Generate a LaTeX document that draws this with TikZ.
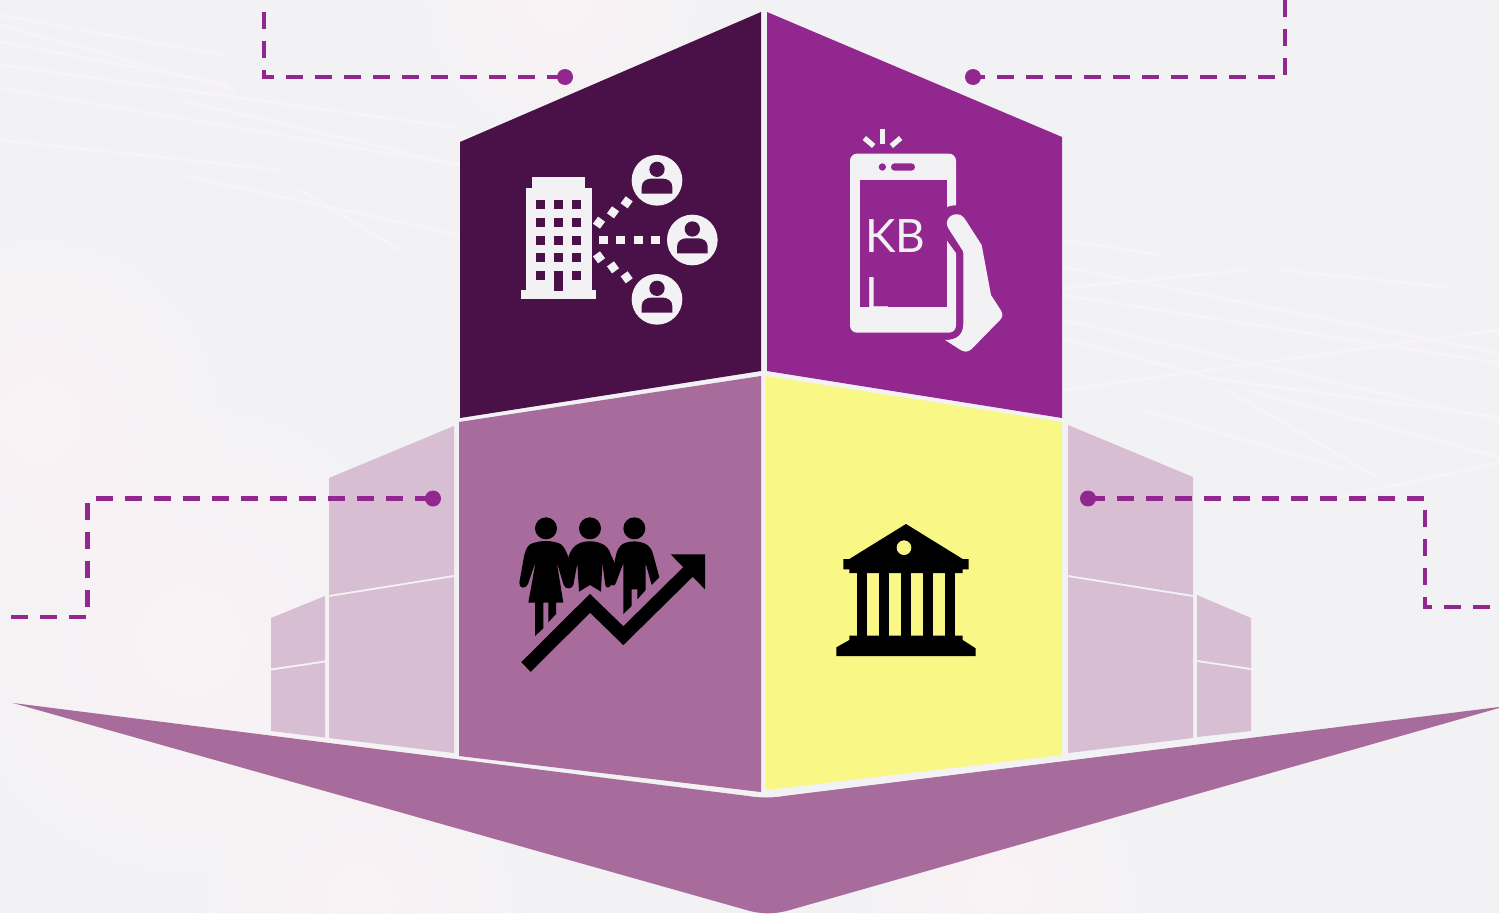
\documentclass[tikz,border=0pt]{standalone}
\usepackage{fontspec}
\setmainfont{Lato}
\usetikzlibrary{fadings}
\definecolor{bgc}{HTML}{F2F2F4}
\definecolor{darkp}{HTML}{4A1048}
\definecolor{midp}{HTML}{92278F}
\definecolor{softp}{HTML}{A76C9B}
\definecolor{palep}{HTML}{D8BED3}
\definecolor{yel}{HTML}{F9F785}
\definecolor{glow}{HTML}{FCF3F6}
\definecolor{streakc}{HTML}{FAF5F8}
\tikzfading[name=softblob, inner color=transparent!0, outer color=transparent!100]
\tikzset{
  link/.style={draw=midp,line width=4.5pt,dash pattern=on 17pt off 12pt},
  dotnode/.style={circle,fill=midp,inner sep=0pt,minimum size=16pt},
  streak/.style={draw=streakc,line width=3pt,opacity=.65},
  blob/.style={fill=glow,path fading=softblob},
  lbl/.style={text=bgc,inner sep=0pt,font=\fontsize{46}{46}\selectfont},
  icw/.style={fill=bgc},
  icb/.style={fill=black},
}
\begin{document}
\begin{tikzpicture}[x=1pt,y=-1pt]
\useasboundingbox (0,0) rectangle (1499,913);
\fill[bgc] (0,0) rectangle (1499,913);
\clip (0,0) rectangle (1499,913);
% background glow
\fill[blob] (40,420) circle (200);
\fill[blob] (190,640) circle (260);
\fill[blob] (360,900) circle (170);
\fill[blob] (1000,890) circle (150);
\fill[blob] (560,0) circle (150);
% background streaks
\foreach \ax/\ay/\bx/\by in {
  0/15/70/28, 0/25/235/90, 80/30/225/55, 0/42/230/85, 0/65/460/128, 0/88/460/165,
  180/100/460/165, 0/140/280/170, 180/175/460/235, 300/190/400/250,
  1063/240/1160/255, 1063/267/1499/353, 1063/295/1499/363, 1063/320/1499/420,
  1063/338/1205/376, 1203/377/1499/417, 1063/390/1499/330, 1063/288/1247/270,
  1280/270/1447/287, 1227/390/1377/477, 1247/390/1499/457, 1327/500/1499/463,
  1143/410/1347/470}
  \draw[streak] (\ax,\ay) -- (\bx,\by);
% faces
\fill[darkp] (460,142) -- (761,12) -- (761,371) -- (460,418) -- cycle;
\fill[midp] (767,12) -- (1062,137) -- (1062,418) -- (767,371) -- cycle;
\fill[softp] (459,422) -- (761,376) -- (761,792) -- (459,756) -- cycle;
\fill[yel] (766,376) -- (1062,422) -- (1062,755) -- (766,790) -- cycle;
% side blocks left
\fill[palep] (329,478) -- (454,426) -- (454,575) -- (329,595) -- cycle;
\fill[palep] (329,597) -- (454,577) -- (454,753) -- (329,738) -- cycle;
\fill[palep] (271,618) -- (325,596) -- (325,660.5) -- (271,668.5) -- cycle;
\fill[palep] (271,670.5) -- (325,662.5) -- (325,737.5) -- (271,731) -- cycle;
% side blocks right
\fill[palep] (1068,425) -- (1193,477) -- (1193,595) -- (1068,575) -- cycle;
\fill[palep] (1068,577) -- (1193,597) -- (1193,738) -- (1068,753) -- cycle;
\fill[palep] (1197,595) -- (1251,618) -- (1251,668) -- (1197,660) -- cycle;
\fill[palep] (1197,662) -- (1251,670) -- (1251,731) -- (1197,737) -- cycle;
% bottom arrow
\fill[softp] (13,703) -- (748,796) .. controls (760,798) and (772,798) .. (784,796) -- (1499,707)
  -- (1499,708) -- (790,910) .. controls (775,914.5) and (760,914.5) .. (745,909.6) -- cycle;
% connectors
\node[dotnode] (d1) at (565,77) {};
\node[dotnode] (d2) at (973,77) {};
\node[dotnode] (d3) at (433,498.5) {};
\node[dotnode] (d4) at (1088,498.5) {};
\coordinate (e1) at (264,12);
\coordinate (e2) at (1285,0);
\coordinate (e3) at (11,617);
\coordinate (e4) at (1499,607);
\draw[link] (e1) -- (264,77) -- (d1.center);
\draw[link] (e2) -- (1285,77) -- (d2.center);
\draw[link] (e3) -- (87.5,617) -- (87.5,498.5) -- (d3.center);
\draw[link] (d4.center) -- (1425,498.5) -- (1425,607) -- (e4);
% building + people icon
\begin{scope}[shift={(500,130)},scale=.33333]
  \fill[icw] (63,481) rectangle (289,506);
  \fill[icw] (77,175) rectangle (275,482);
  \fill[icw] (96,142) rectangle (256,176);
  \foreach \wx in {122,176,229}
    \foreach \wy in {224,277,330,382}
      \fill[darkp] (\wx-13.5,\wy-13.5) rectangle (\wx+13.5,\wy+13.5);
  \fill[darkp] (108.5,422) rectangle (135.5,449);
  \fill[darkp] (215.5,422) rectangle (242.5,449);
  \fill[darkp] (163,422) rectangle (189,482);
  \foreach \px in {310,362,415,467}
    \fill[icw] (\px-13,317) rectangle (\px+13,343);
  \foreach \qx/\qy/\ang in {297/278/-36,339/247/-36,380/217/-36,297/382/36,339/412/36,380/442/36}
    \fill[icw,shift={(\qx,\qy)},rotate=\ang] (-13,-13) rectangle (13,13);
  \foreach \cx/\cy in {471/151,577/330,471/508}{
    \fill[icw] (\cx,\cy) circle (76);
    \fill[darkp] (\cx,\cy-33) circle (23);
    \fill[darkp] (\cx-46,\cy+40) -- (\cx-46,\cy+20) .. controls (\cx-46,\cy+2) and (\cx-30,\cy-5) .. (\cx-18,\cy-5)
      -- (\cx+18,\cy-5) .. controls (\cx+30,\cy-5) and (\cx+46,\cy+2) .. (\cx+46,\cy+20) -- (\cx+46,\cy+40) -- cycle;
  }
\end{scope}
% phone icon
\begin{scope}[shift={(830,120)},scale=.33333]
  \fill[icw,rounded corners=7pt] (60,101) rectangle (378,638);
  \fill[midp] (89,181) rectangle (350,560);
  \fill[midp] (345,265) .. controls (355,258) and (368,256) .. (379,256) -- (400,256) -- (400,400) -- (379,400) -- (350,360) -- cycle;
  \fill[icw] (345,660) .. controls (380,660) and (400,645) .. (400,610) -- (400,400) -- (398,392) -- (355,325)
    .. controls (340,300) and (365,275) .. (392,285) .. controls (400,289) and (404,296) .. (408,302)
    -- (455,375) -- (483,525) -- (512,570) .. controls (520,582) and (518,592) .. (510,600)
    -- (425,687) .. controls (413,698) and (402,696) .. (392,690) -- cycle;
  \fill[icw] (150,28) rectangle (165,72);
  \fill[icw] (98,60) -- (108,48) -- (136,72) -- (126,84) -- cycle;
  \fill[icw] (217,60) -- (207,48) -- (179,72) -- (189,84) -- cycle;
  \fill[midp] (157,141) circle (11);
  \fill[midp,rounded corners=3.6pt] (183,130) rectangle (255,152);
  \node[lbl] (kb) at (196,349) {KB};
  \node[lbl,anchor=south west] (ell) at (107,573) {L};
\end{scope}
% people + arrow icon
\begin{scope}[shift={(500,500)},scale=.33333]
  \fill[icb] (138,85) circle (33) (270,85) circle (33) (403,85) circle (33);
  \fill[icb] (92,132) .. controls (120,120) and (155,120) .. (182,132) .. controls (192,140) and (200,155) .. (205,172)
    -- (220,250) .. controls (218,268) and (196,270) .. (191,255) -- (170,185) -- (190,308) -- (168,308) -- (168,342) -- (145,367)
    -- (145,308) -- (130,308) -- (130,385) -- (105,408) -- (105,308) -- (85,308) -- (107,185) -- (84,252)
    .. controls (78,268) and (56,266) .. (58,248) -- (72,170) .. controls (76,150) and (82,138) .. (92,132) -- cycle;
  \fill[icb] (238,130) .. controls (255,122) and (285,122) .. (302,130) .. controls (318,135) and (328,148) .. (333,165) -- (345,190)
    -- (335,250) .. controls (330,266) and (318,266) .. (316,255) -- (307,190) -- (303,275) -- (270,255) -- (237,275) -- (232,190) -- (220,255)
    .. controls (215,268) and (200,268) .. (195,255) -- (205,172) .. controls (212,150) and (222,136) .. (238,130) -- cycle;
  \fill[icb] (372,130) .. controls (390,122) and (415,122) .. (433,130) .. controls (448,136) and (456,148) .. (460,165) -- (478,232)
    -- (455,255) -- (437,190) -- (437,270) -- (412,298) -- (412,268) -- (395,268) -- (395,318) -- (370,342) -- (370,190) -- (348,248)
    .. controls (345,258) and (338,258) .. (332,255) -- (345,180) .. controls (350,150) and (358,136) .. (372,130) -- cycle;
  \draw[line width=13.5pt,miter limit=10] (78,501) -- (270,310) -- (370,407) -- (572,208);
  \fill[icb] (512,163) -- (615,163) -- (615,268) -- cycle;
\end{scope}
% bank icon
\begin{scope}[shift={(820,510)},scale=.33333]
  \fill[icb] (258,42) -- (428,147) -- (446,147) -- (446,178) -- (428,178) -- (428,189) -- (88,189) -- (88,178) -- (70,178) -- (70,147) -- (88,147) -- cycle;
  \fill[yel] (252,113) circle (22);
  \foreach \bx in {110,177,243,309,375}
    \fill[icb] (\bx,188) rectangle (\bx+31,378);
  \fill[icb] (88,377) -- (428,377) -- (428,390) -- (467,415) -- (467,438) -- (49,438) -- (49,412) -- (88,390) -- cycle;
\end{scope}
\end{tikzpicture}
\end{document}
